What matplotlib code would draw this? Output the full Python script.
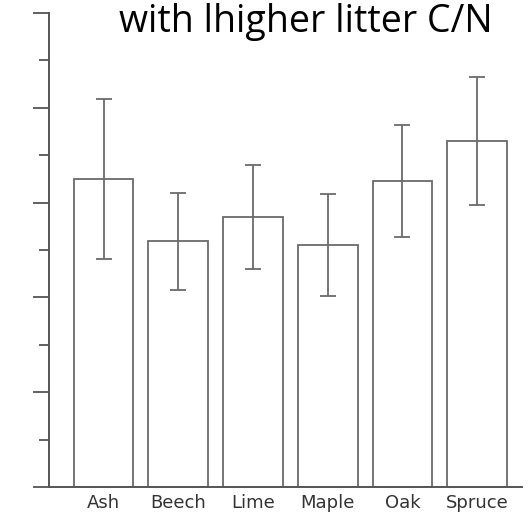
import matplotlib
matplotlib.use("Agg")
import matplotlib.pyplot as plt
import numpy as np
from matplotlib.ticker import MultipleLocator, NullFormatter

species = ["Ash", "Beech", "Lime", "Maple", "Oak", "Spruce"]
means = [3.25, 2.59, 2.85, 2.55, 3.23, 3.65]
errors = [0.84, 0.515, 0.55, 0.54, 0.59, 0.68]
title = "with lhigher litter C/N"

LINE = "#6a6a6a"
AXIS = "#555555"

fig = plt.figure(figsize=(5.32, 5.13), dpi=100)
# axes box in pixels: left 49, right 522, top 13, bottom 487
ax = fig.add_axes([49 / 532, (513 - 487) / 513, (522 - 49) / 532, (487 - 13) / 513])

x = np.arange(len(species))
ax.bar(x, means, width=0.8, facecolor="white", edgecolor=LINE, linewidth=1.3, zorder=2)
ax.errorbar(x, means, yerr=errors, fmt="none", ecolor=LINE, elinewidth=1.3,
            capsize=5.8, capthick=1.3, zorder=3)

ax.set_xlim(-0.73, 5.6)
ax.set_ylim(0, 5)

for side in ["top", "right"]:
    ax.spines[side].set_visible(False)
for side in ["left", "bottom"]:
    ax.spines[side].set_color(AXIS)
    ax.spines[side].set_linewidth(1.4)

ax.yaxis.set_major_locator(MultipleLocator(1))
ax.yaxis.set_minor_locator(MultipleLocator(0.5))
ax.yaxis.set_major_formatter(NullFormatter())
ax.tick_params(axis="y", which="major", length=11.5, width=1.3, color=AXIS)
ax.tick_params(axis="y", which="minor", length=7.2, width=1.3, color=AXIS)

ax.set_xticks(x)
ax.set_xticklabels(species, family="DejaVu Sans", fontsize=13, color="#333333")
ax.tick_params(axis="x", length=0, pad=5)

fig.text(306 / 532, 1 - 32 / 513, title, ha="center", va="baseline",
         family="Open Sans", fontsize=27, color="black")

fig.savefig("out.png", dpi=100)
